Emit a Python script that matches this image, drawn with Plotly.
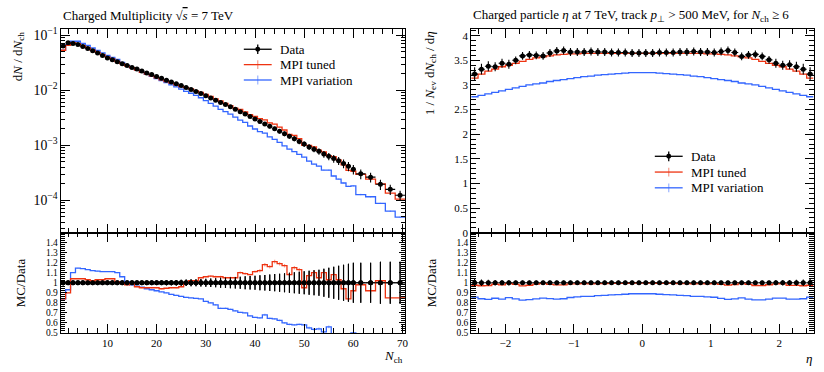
import plotly.graph_objects as go

W, H = 824, 372

# ---------------- data: charged multiplicity ----------------
nch_edges = [i + 0.5 for i in range(61)] + [62.5, 64.5, 66.5, 68.5, 70.5]
nch_data = [0.0638, 0.0731, 0.0710, 0.0682, 0.0624, 0.0579, 0.0525, 0.0476, 0.0432, 0.0389,
            0.0359, 0.0331, 0.0305, 0.0282, 0.0260, 0.0243, 0.0224, 0.0207, 0.0193, 0.0178,
            0.0165, 0.0153, 0.0142, 0.0132, 0.0122, 0.0112, 0.0104, 0.00955, 0.00871, 0.00794,
            0.00724, 0.00661, 0.00603, 0.00550, 0.00501, 0.00452, 0.00407, 0.00372, 0.00335, 0.00302,
            0.00272, 0.00245, 0.00221, 0.00200, 0.00180, 0.00162, 0.00146, 0.00132, 0.00117, 0.00105,
            0.000933, 0.000851, 0.000776, 0.000692, 0.000631, 0.000575, 0.000525, 0.000468, 0.000417, 0.000366,
            0.000302, 0.000263, 0.000195, 0.000158, 0.000123]
nch_data_relerr = [0.025, 0.02, 0.02, 0.02, 0.02, 0.02, 0.02, 0.02, 0.02, 0.02,
                   0.02, 0.02, 0.02, 0.02, 0.02, 0.02, 0.02, 0.02, 0.02, 0.02,
                   0.022, 0.024, 0.026, 0.028, 0.03, 0.032, 0.034, 0.036, 0.038, 0.04,
                   0.043, 0.046, 0.049, 0.052, 0.055, 0.058, 0.061, 0.064, 0.067, 0.07,
                   0.074, 0.078, 0.082, 0.086, 0.09, 0.095, 0.10, 0.105, 0.11, 0.115,
                   0.12, 0.125, 0.13, 0.14, 0.15, 0.16, 0.17, 0.18, 0.19, 0.20,
                   0.20, 0.20, 0.21, 0.21, 0.21]
nch_tuned_over_data = [0.84, 0.90, 1.04, 1.04, 1.04, 1.03, 1.02, 1.03, 1.03, 1.04,
                       1.04, 1.01, 1.00, 0.98, 0.99, 0.96, 0.95, 0.95, 0.95, 0.95,
                       0.94, 0.945, 0.95, 0.95, 0.96, 1.00, 1.02, 1.02, 1.05, 1.06,
                       1.065, 1.06, 1.06, 1.05, 1.05, 1.05, 1.10, 1.09, 1.08, 1.11,
                       1.12, 1.18, 1.16, 1.21, 1.19, 1.17, 1.08, 1.15, 1.13, 0.95,
                       1.07, 1.10, 1.05, 1.10, 1.03, 1.08, 1.03, 0.94, 0.84, 0.92,
                       0.98, 0.92, 1.02, 0.85, 0.85]
nch_var_over_data = [0.84, 0.93, 1.10, 1.145, 1.14, 1.13, 1.12, 1.115, 1.11, 1.11,
                     1.11, 1.10, 1.06, 1.01, 0.98, 0.965, 0.955, 0.94, 0.93, 0.92,
                     0.91, 0.90, 0.885, 0.875, 0.865, 0.855, 0.85, 0.845, 0.84, 0.815,
                     0.80, 0.78, 0.745, 0.745, 0.735, 0.72, 0.705, 0.70, 0.67, 0.655,
                     0.65, 0.68, 0.645, 0.64, 0.625, 0.60, 0.585, 0.58, 0.585, 0.58,
                     0.55, 0.535, 0.54, 0.51, 0.56, 0.48, 0.46, 0.44, 0.43, 0.50,
                     0.42, 0.44, 0.45, 0.40, 0.40]
mc_relerr = [0.003] * 10 + [0.004] * 10 + [0.006] * 10 + [0.01] * 10 + [0.015] * 10 + [0.025] * 10 + [0.03] * 5

# ---------------- data: pseudorapidity ----------------
eta_edges = [round(-2.5 + 0.1 * i, 2) for i in range(51)]
eta_data = [3.22, 3.32, 3.38, 3.37, 3.44, 3.42, 3.50, 3.59, 3.61, 3.60,
            3.59, 3.65, 3.69, 3.70, 3.67, 3.67, 3.67, 3.68, 3.67, 3.67,
            3.66, 3.66, 3.66, 3.65, 3.65, 3.65, 3.65, 3.66, 3.66, 3.66,
            3.67, 3.67, 3.68, 3.67, 3.67, 3.66, 3.68, 3.70, 3.66, 3.58,
            3.61, 3.62, 3.58, 3.51, 3.44, 3.40, 3.41, 3.37, 3.32, 3.22]
eta_data_err = [0.14, 0.11, 0.10, 0.09, 0.09, 0.09, 0.08, 0.08, 0.08, 0.08,
                0.08, 0.08, 0.08, 0.08, 0.08, 0.08, 0.08, 0.08, 0.08, 0.08,
                0.08, 0.08, 0.08, 0.08, 0.08, 0.08, 0.08, 0.08, 0.08, 0.08,
                0.08, 0.08, 0.08, 0.08, 0.08, 0.08, 0.08, 0.08, 0.08, 0.08,
                0.08, 0.08, 0.08, 0.08, 0.09, 0.09, 0.09, 0.10, 0.11, 0.14]
eta_tuned = [3.14, 3.22, 3.28, 3.32, 3.37, 3.40, 3.44, 3.48, 3.52, 3.55,
             3.57, 3.59, 3.61, 3.62, 3.63, 3.63, 3.64, 3.64, 3.64, 3.64,
             3.64, 3.64, 3.64, 3.64, 3.64, 3.64, 3.64, 3.64, 3.64, 3.64,
             3.64, 3.64, 3.64, 3.64, 3.63, 3.63, 3.62, 3.61, 3.59, 3.57,
             3.55, 3.52, 3.48, 3.44, 3.40, 3.37, 3.32, 3.28, 3.22, 3.14]
eta_var = [2.76, 2.79, 2.82, 2.85, 2.88, 2.91, 2.94, 2.97, 3.00, 3.02,
           3.04, 3.07, 3.09, 3.11, 3.13, 3.15, 3.17, 3.18, 3.20, 3.21,
           3.22, 3.23, 3.24, 3.25, 3.25, 3.25, 3.25, 3.24, 3.23, 3.22,
           3.21, 3.20, 3.18, 3.17, 3.15, 3.13, 3.11, 3.09, 3.07, 3.04,
           3.02, 3.00, 2.97, 2.94, 2.91, 2.88, 2.85, 2.82, 2.79, 2.76]
eta_mc_err = 0.006

# ---------------- styling ----------------
RED = "#EE3311"
BLUE = "#3366FF"
RED_T = "rgba(238,51,17,0.45)"
BLUE_T = "rgba(51,102,255,0.45)"
FONT = "Liberation Serif"


def px(x):
    return x / W


def py(y):
    return 1 - y / H


def centers(edges):
    return [(edges[i] + edges[i + 1]) / 2 for i in range(len(edges) - 1)]


def halfw(edges):
    return [(edges[i + 1] - edges[i]) / 2 for i in range(len(edges) - 1)]


def step_xy(edges, vals):
    return list(edges), list(vals) + [vals[-1]]


fig = go.Figure()

nch_c = centers(nch_edges)
nch_hw = halfw(nch_edges)
nch_tuned = [d * r for d, r in zip(nch_data, nch_tuned_over_data)]
nch_var = [d * r for d, r in zip(nch_data, nch_var_over_data)]

eta_c = centers(eta_edges)
eta_hw = halfw(eta_edges)


def add_mc(xc, edges, vals, errs, color, color_t, xa, ya):
    sx, sy = step_xy(edges, vals)
    fig.add_trace(go.Scatter(x=xc, y=vals, mode="markers", marker=dict(size=0.1, color=color_t),
                             error_y=dict(type="data", array=errs, color=color_t, thickness=1.2, width=0),
                             xaxis=xa, yaxis=ya, showlegend=False, hoverinfo="skip"))
    fig.add_trace(go.Scatter(x=sx, y=sy, mode="lines", line=dict(color=color, width=1.3, shape="hv"),
                             xaxis=xa, yaxis=ya, showlegend=False, hoverinfo="skip"))


def add_data(xc, hw, vals, errs, xa, ya, msize=5):
    fig.add_trace(go.Scatter(x=xc, y=vals, mode="markers",
                             marker=dict(size=msize, color="black", symbol="circle"),
                             error_y=dict(type="data", array=errs, color="black", thickness=1.1, width=0),
                             error_x=dict(type="data", array=hw, color="black", thickness=1.1, width=0),
                             xaxis=xa, yaxis=ya, showlegend=False, hoverinfo="skip"))


# --- left main
add_mc(nch_c, nch_edges, nch_var, [v * e for v, e in zip(nch_var, mc_relerr)], BLUE, BLUE_T, "x", "y")
add_mc(nch_c, nch_edges, nch_tuned, [v * e for v, e in zip(nch_tuned, mc_relerr)], RED, RED_T, "x", "y")
add_data(nch_c, nch_hw, nch_data, [v * e for v, e in zip(nch_data, nch_data_relerr)], "x", "y")
# --- left ratio
r_t = [m / d for m, d in zip(nch_tuned, nch_data)]
r_v = [m / d for m, d in zip(nch_var, nch_data)]
add_data(nch_c, nch_hw, [d / d for d in nch_data], nch_data_relerr, "x2", "y2")
add_mc(nch_c, nch_edges, r_v, [r * e for r, e in zip(r_v, mc_relerr)], BLUE, BLUE_T, "x2", "y2")
add_mc(nch_c, nch_edges, r_t, [r * e for r, e in zip(r_t, mc_relerr)], RED, RED_T, "x2", "y2")
add_data(nch_c, nch_hw, [d / d for d in nch_data], nch_data_relerr, "x2", "y2")

# --- right main
add_mc(eta_c, eta_edges, eta_var, [eta_mc_err] * len(eta_var), BLUE, BLUE_T, "x3", "y3")
add_mc(eta_c, eta_edges, eta_tuned, [eta_mc_err] * len(eta_tuned), RED, RED_T, "x3", "y3")
add_data(eta_c, eta_hw, eta_data, eta_data_err, "x3", "y3")
# --- right ratio
er_t = [m / d for m, d in zip(eta_tuned, eta_data)]
er_v = [m / d for m, d in zip(eta_var, eta_data)]
eta_rel = [e / d for e, d in zip(eta_data_err, eta_data)]
add_mc(eta_c, eta_edges, er_v, [eta_mc_err / 3.5] * len(er_v), BLUE, BLUE_T, "x4", "y4")
add_mc(eta_c, eta_edges, er_t, [eta_mc_err / 3.5] * len(er_t), RED, RED_T, "x4", "y4")
add_data(eta_c, eta_hw, [d / d for d in eta_data], eta_rel, "x4", "y4")

# ---------------- axes ----------------
LX = [px(61), px(407)]
RX = [px(473.5), px(817.5)]
MY = [py(235), py(26)]
RY = [py(338), py(235)]

tickfont = dict(family=FONT, size=11, color="black")
rtickfont = dict(family=FONT, size=9.5, color="black")


def xax(domain, rng, dtick, minor_dtick, anchor, labels, match=None):
    d = dict(domain=domain, range=rng, dtick=dtick, tick0=0, ticks="inside", ticklen=9, tickwidth=1,
             tickcolor="black", mirror="allticks", showline=True, linecolor="black", linewidth=1,
             showgrid=False, zeroline=False, showticklabels=labels, tickfont=tickfont, anchor=anchor,
             minor=dict(ticks="inside", ticklen=4.5, dtick=minor_dtick, tickcolor="black", showgrid=False))
    if match:
        d["matches"] = match
    return d


def yax(domain, rng, dtick, tick0, minor_dtick, anchor, log=False, ticklen=9, font=tickfont):
    d = dict(domain=domain, range=rng, dtick=dtick, ticks="inside", ticklen=ticklen, tickwidth=1,
             tickcolor="black", mirror="allticks", showline=True, linecolor="black", linewidth=1,
             showgrid=False, zeroline=False, tickfont=font, anchor=anchor,
             minor=dict(ticks="inside", ticklen=4.5, dtick=minor_dtick, tickcolor="black", showgrid=False))
    if tick0 is not None:
        d["tick0"] = tick0
    if log:
        d["type"] = "log"
        d["exponentformat"] = "power"
    return d


fig.update_layout(
    width=W, height=H, margin=dict(l=0, r=0, t=0, b=0),
    paper_bgcolor="white", plot_bgcolor="white", showlegend=False,
    font=dict(family=FONT, color="black"),
    xaxis=xax(LX, [0.5, 70.5], 10, 2, "y", False, None),
    yaxis=yax(MY, [-4.59, -0.89], 1, None, "D1", "x", log=True),
    xaxis2=xax(LX, [0.5, 70.5], 10, 2, "y2", True, "x"),
    yaxis2=yax(RY, [0.5, 1.499], 0.1, 0.5, 0.02, "x2", ticklen=6, font=rtickfont),
    xaxis3=xax(RX, [-2.5, 2.5], 1, 0.2, "y3", False, None),
    yaxis3=yax(MY, [0, 4.13], 0.5, 0, 0.1, "x3"),
    xaxis4=xax(RX, [-2.5, 2.5], 1, 0.2, "y4", True, "x3"),
    yaxis4=yax(RY, [0.5, 1.499], 0.1, 0.5, 0.02, "x4", ticklen=6, font=rtickfont),
)

ann = []


def text(x, y, s, size=13, xanchor="left", yanchor="middle", angle=0):
    ann.append(dict(x=px(x), y=py(y), xref="paper", yref="paper", text=s, showarrow=False,
                    xanchor=xanchor, yanchor=yanchor, textangle=angle,
                    font=dict(family=FONT, size=size, color="black")))


text(61, 12, "Charged Multiplicity √<span style='text-decoration:overline'><i>s</i></span> = 7 TeV", 13)
text(473, 12, "Charged particle <i>η</i> at 7 TeV, track <i>p</i><sub>⊥</sub> &gt; 500 MeV, for <i>N</i><sub>ch</sub> ≥ 6", 13)
text(18, 26, "d<i>N</i> / d<i>N</i><sub>ch</sub>", 13, xanchor="center", yanchor="top", angle=-90)
text(20, 286, "MC/Data", 13, xanchor="center", angle=-90)
text(432, 26, "1 / <i>N</i><sub>ev</sub> d<i>N</i><sub>ch</sub> / d<i>η</i>", 13, xanchor="center", yanchor="top", angle=-90)
text(433, 286, "MC/Data", 13, xanchor="center", angle=-90)
text(407, 362, "<i>N</i><sub>ch</sub>", 13, xanchor="right")
text(818, 364, "<i>η</i>", 13, xanchor="right")

shapes = []


def legend(x0, y0, dy):
    entries = [("Data", "black", True), ("MPI tuned", RED, False), ("MPI variation", BLUE, False)]
    for i, (lab, col, is_data) in enumerate(entries):
        yy = y0 + i * dy
        shapes.append(dict(type="line", xref="paper", yref="paper", x0=px(x0), x1=px(x0 + 28),
                           y0=py(yy), y1=py(yy), line=dict(color=col, width=1.3)))
        h = 5 if is_data else 4.5
        shapes.append(dict(type="line", xref="paper", yref="paper", x0=px(x0 + 14), x1=px(x0 + 14),
                           y0=py(yy - h), y1=py(yy + h),
                           line=dict(color=col if is_data else (RED_T if col == RED else BLUE_T), width=1.3)))
        if is_data:
            shapes.append(dict(type="circle", xref="paper", yref="paper", x0=px(x0 + 11.5), x1=px(x0 + 16.5),
                               y0=py(yy - 2.5), y1=py(yy + 2.5), fillcolor="black", line=dict(color="black", width=0)))
        text(x0 + 34, yy, lab, 13)


legend(245, 46.5, 15.8)
legend(658, 156.5, 16.2)

fig.update_layout(annotations=ann, shapes=shapes)
fig.write_html("out.html")
